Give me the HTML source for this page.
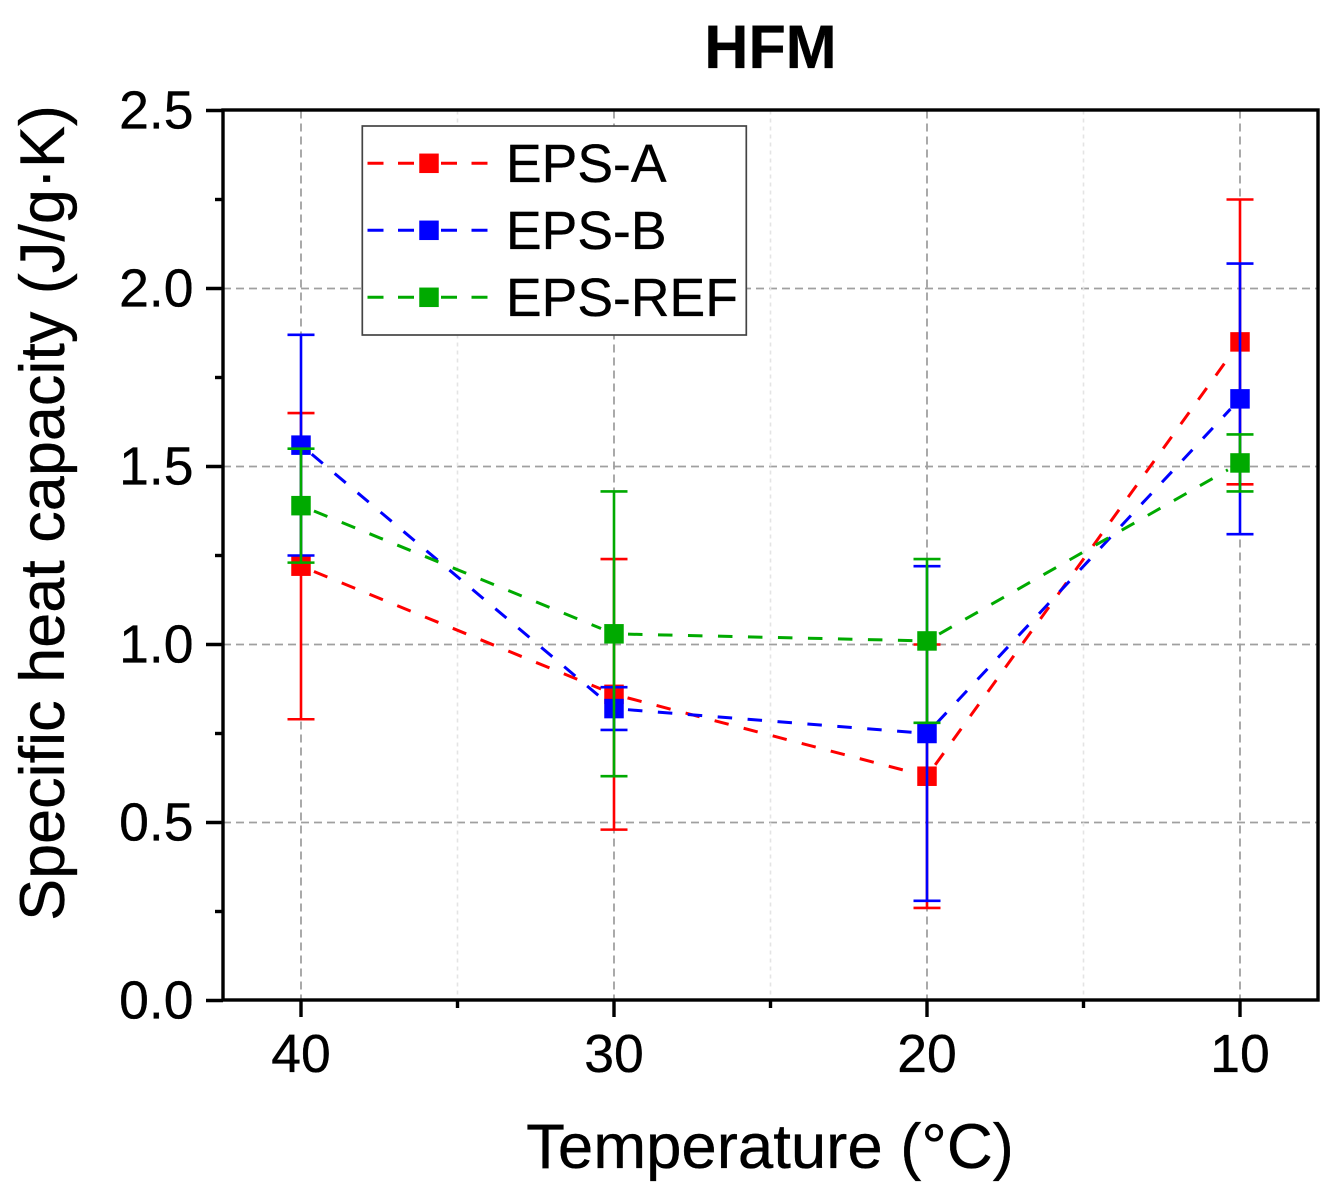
<!DOCTYPE html>
<html lang="en">
<head>
<meta charset="utf-8">
<title>HFM specific heat capacity</title>
<style>
html,body{margin:0;padding:0;background:#fff;width:1340px;height:1201px;overflow:hidden}
svg{display:block}
text{font-family:"Liberation Sans",Arial,sans-serif;fill:#000;stroke:#000;stroke-width:.35}
</style>
</head>
<body>
<svg id="chart" width="1340" height="1201" viewBox="0 0 1340 1201" xmlns="http://www.w3.org/2000/svg">
  <rect width="1340" height="1201" fill="#fff"/>
  <g id="grid"></g>
  <g id="series"></g>
  <g id="axes"></g>
  <text x="770.5" y="68" font-size="61" font-weight="bold" text-anchor="middle">HFM</text>
  <text x="770" y="1168" font-size="63.5" text-anchor="middle">Temperature (°C)</text>
  <text transform="translate(64,513) rotate(-90)" font-size="63" text-anchor="middle">Specific heat capacity (J/g·K)</text>
  <g id="legend"></g>
</svg>
<script>
const temperatures = [40, 30, 20, 10];
const minorTemperatures = [35, 25, 15];
const xTickLabels = ["40", "30", "20", "10"];
const yMajorTicks = [0, 0.5, 1, 1.5, 2, 2.5];
const yMinorTicks = [0.25, 0.75, 1.25, 1.75, 2.25];
const yTickLabels = ["0.0", "0.5", "1.0", "1.5", "2.0", "2.5"];
const seriesNames = ["EPS-A", "EPS-B", "EPS-REF"];
const seriesColors = ["#ff0000", "#0000ff", "#00aa00"];
const epsAValues = [1.22, 0.86, 0.63, 1.85];
const epsAErrors = [0.43, 0.38, 0.37, 0.40];
const epsBValues = [1.56, 0.82, 0.75, 1.69];
const epsBErrors = [0.31, 0.06, 0.47, 0.38];
const epsRefValues = [1.39, 1.03, 1.01, 1.51];
const epsRefErrors = [0.16, 0.40, 0.23, 0.08];

const allValues = [epsAValues, epsBValues, epsRefValues];
const allErrors = [epsAErrors, epsBErrors, epsRefErrors];
const NS = "http://www.w3.org/2000/svg";
const plot = {left: 223, right: 1318, top: 110.5, bottom: 1000.5};
const xScale = t => 301 + (40 - t) * 31.3;
const yScale = v => plot.bottom - v * (plot.bottom - plot.top) / 2.5;

function make(tag, attrs, parent) {
  const el = document.createElementNS(NS, tag);
  for (const k in attrs) el.setAttribute(k, attrs[k]);
  parent.appendChild(el);
  return el;
}
const gridG = document.getElementById("grid");
const axesG = document.getElementById("axes");
const seriesG = document.getElementById("series");
const legendG = document.getElementById("legend");

/* grid */
yMajorTicks.forEach(v => {
  if (v === 0 || v === 2.5) return;
  const el = make("line", {x1: plot.left, x2: plot.right, y1: yScale(v), y2: yScale(v), stroke: "#a0a0a0", "stroke-width": 1.8, "stroke-dasharray": "8 5"}, gridG);
  
  
});
temperatures.forEach(t => {
  const el = make("line", {x1: xScale(t), x2: xScale(t), y1: plot.top, y2: plot.bottom, stroke: "#a0a0a0", "stroke-width": 1.8, "stroke-dasharray": "8 5"}, gridG);
  
  
});
minorTemperatures.forEach(t => {
  const el = make("line", {x1: xScale(t), x2: xScale(t), y1: plot.top, y2: plot.bottom, stroke: "#e4e4e4", "stroke-width": 1.6, "stroke-dasharray": "4 4"}, gridG);
  
  
});

/* each series: connecting line, then error bars, then symbols, stacked in series order */
const symbolGap = 14;
const symbolSize = 19.5;
const capHalf = 13.5;
allValues.forEach((vals, s) => {
  const group = make("g", {}, seriesG);
  
  
  for (let i = 0; i < vals.length - 1; i++) {
    const x1 = xScale(temperatures[i]), y1 = yScale(vals[i]);
    const x2 = xScale(temperatures[i + 1]), y2 = yScale(vals[i + 1]);
    const len = Math.hypot(x2 - x1, y2 - y1);
    const ux = (x2 - x1) / len, uy = (y2 - y1) / len;
    const el = make("line", {
      x1: x1 + ux * symbolGap, y1: y1 + uy * symbolGap,
      x2: x2 - ux * symbolGap, y2: y2 - uy * symbolGap,
      stroke: seriesColors[s], "stroke-width": 3, "stroke-dasharray": "14.5 15.5"
    }, group);
    
    
  }
  vals.forEach((v, i) => {
    const x = xScale(temperatures[i]);
    const hi = yScale(v + allErrors[s][i]);
    const lo = yScale(v - allErrors[s][i]);
    const g = make("g", {stroke: seriesColors[s], "stroke-width": 2.6}, group);
    
    
    make("line", {x1: x, x2: x, y1: hi, y2: lo}, g);
    make("line", {x1: x - capHalf, x2: x + capHalf, y1: hi, y2: hi}, g);
    make("line", {x1: x - capHalf, x2: x + capHalf, y1: lo, y2: lo}, g);
  });
  vals.forEach((v, i) => {
    const el = make("rect", {
      x: xScale(temperatures[i]) - symbolSize / 2, y: yScale(v) - symbolSize / 2,
      width: symbolSize, height: symbolSize, fill: seriesColors[s]
    }, group);
    
    
  });
});

/* axes */
const frame = make("rect", {x: plot.left, y: plot.top - 0.5, width: plot.right - plot.left, height: plot.bottom - plot.top, fill: "none", stroke: "#000", "stroke-width": 3.4}, axesG);



yMajorTicks.forEach((v, i) => {
  const t = make("line", {x1: 206, x2: plot.left, y1: yScale(v), y2: yScale(v), stroke: "#000", "stroke-width": 3.4}, axesG);
  
  
  const l = make("text", {x: 193.5, y: yScale(v) + 18, "font-size": 53.5, "text-anchor": "end"}, axesG);
  l.textContent = yTickLabels[i];
  
  
});
yMinorTicks.forEach(v => {
  const t = make("line", {x1: 215, x2: plot.left, y1: yScale(v), y2: yScale(v), stroke: "#000", "stroke-width": 3.4}, axesG);
  
  
});
temperatures.forEach((c, i) => {
  const t = make("line", {x1: xScale(c), x2: xScale(c), y1: plot.bottom, y2: 1017, stroke: "#000", "stroke-width": 3.4}, axesG);
  
  
  const l = make("text", {x: xScale(c), y: 1072, "font-size": 53.5, "text-anchor": "middle"}, axesG);
  l.textContent = xTickLabels[i];
  
  
});
minorTemperatures.forEach(c => {
  const t = make("line", {x1: xScale(c), x2: xScale(c), y1: plot.bottom, y2: 1008, stroke: "#000", "stroke-width": 3.4}, axesG);
  
  
});

/* legend */
const legendBox = make("rect", {x: 362.3, y: 126, width: 384, height: 209, fill: "#fff", stroke: "#444", "stroke-width": 1.7}, legendG);


seriesNames.forEach((name, s) => {
  const cy = 163.3 + s * 67;
  const g = make("g", {}, legendG);
  
  
  make("line", {x1: 367.5, x2: 414, y1: cy, y2: cy, stroke: seriesColors[s], "stroke-width": 3, "stroke-dasharray": "16 14.5"}, g);
  make("line", {x1: 441, x2: 488, y1: cy, y2: cy, stroke: seriesColors[s], "stroke-width": 3, "stroke-dasharray": "16 14.5"}, g);
  make("rect", {x: 429 - symbolSize / 2, y: cy - symbolSize / 2, width: symbolSize, height: symbolSize, fill: seriesColors[s]}, g);
  const l = make("text", {x: 506, y: cy + 18.6, "font-size": 53.5}, g);
  l.textContent = name;
});
</script>
</body>
</html>
